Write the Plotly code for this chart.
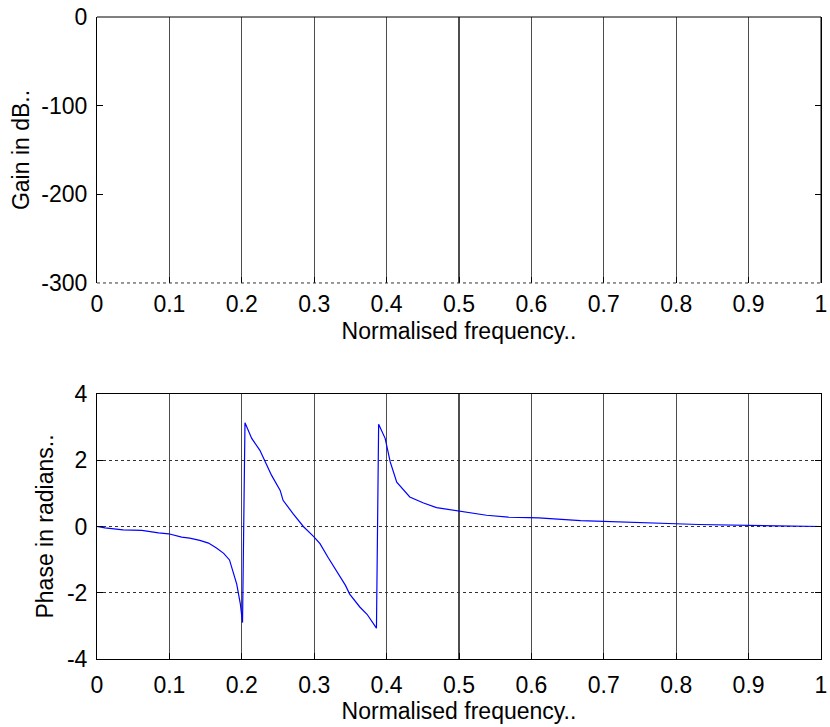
import plotly.graph_objects as go

# ---------------- data ----------------
# Gain plot: no visible trace inside the -300..0 dB window
gain_freq = []
gain_db = []

freq = [0.0, 0.011, 0.036, 0.062, 0.085, 0.099, 0.117, 0.128, 0.142, 0.154,
        0.165, 0.175, 0.183, 0.187, 0.193, 0.198, 0.201,
        0.2044, 0.2137, 0.225, 0.230, 0.241, 0.253, 0.257, 0.271, 0.285,
        0.299, 0.308, 0.319, 0.331, 0.343, 0.349, 0.363, 0.373, 0.386,
        0.389, 0.398, 0.405, 0.414, 0.432, 0.451, 0.469, 0.497, 0.515,
        0.538, 0.568, 0.610, 0.668, 0.739, 0.831, 0.939, 1.0]
phase = [0.0, -0.04, -0.10, -0.12, -0.19, -0.22, -0.32, -0.35, -0.42, -0.50,
         -0.65, -0.81, -1.01, -1.33, -1.74, -2.34, -2.90,
         3.13, 2.66, 2.30, 2.05, 1.55, 1.09, 0.79, 0.38, 0.0,
         -0.30, -0.52, -0.93, -1.33, -1.77, -2.04, -2.43, -2.65, -3.07,
         3.09, 2.66, 1.95, 1.34, 0.89, 0.71, 0.57, 0.48, 0.42,
         0.34, 0.28, 0.26, 0.18, 0.12, 0.06, 0.02, 0.0]

x_ticks = [0, 0.1, 0.2, 0.3, 0.4, 0.5, 0.6, 0.7, 0.8, 0.9, 1.0]
x_ticktext = ["0", "0.1", "0.2", "0.3", "0.4", "0.5", "0.6", "0.7", "0.8", "0.9", "1"]
gain_ticks = [0, -100, -200, -300]
gain_ticktext = ["0", "-100", "-200", "-300"]
phase_ticks = [-4, -2, 0, 2, 4]
phase_ticktext = ["-4", "-2", "0", "2", "4"]

x_title = "Normalised frequency.."
gain_title = "Gain in dB.."
phase_title = "Phase in radians.."

# ---------------- figure ----------------
FONT = "Liberation Sans, Arial, Helvetica, sans-serif"
FS = 23

fig = go.Figure()
fig.add_trace(go.Scatter(x=gain_freq, y=gain_db, mode="lines", xaxis="x", yaxis="y",
                         line=dict(color="#0000ff", width=1), showlegend=False))
fig.add_trace(go.Scatter(x=freq, y=phase, mode="lines", xaxis="x2", yaxis="y2",
                         line=dict(color="#0000ff", width=1.2), showlegend=False))

common_x = dict(range=[0, 1], tickvals=x_ticks, ticktext=x_ticktext,
                showgrid=True, gridcolor="#4d4d4d", gridwidth=1.2,
                ticks="inside", ticklen=6, tickcolor="black",
                zeroline=False, ticklabelstandoff=5, ticklabeloverflow="allow",
                tickfont=dict(family=FONT, size=FS, color="black"),
                title=dict(text=x_title, font=dict(family=FONT, size=FS, color="black"),
                           standoff=6))

fig.update_layout(
    width=830, height=727,
    margin=dict(l=97, r=9, t=17, b=68, autoexpand=False),
    paper_bgcolor="white", plot_bgcolor="white",
    font=dict(family=FONT, size=FS, color="black"),
    hovermode=False,
    xaxis=dict(domain=[0, 1], anchor="y", showline=False, **common_x),
    yaxis=dict(domain=[0.5857, 1.0], anchor="x", range=[-300, 0],
               tickvals=gain_ticks, ticktext=gain_ticktext,
               showgrid=False, zeroline=False,
               showline=True, linecolor="black", linewidth=1,
               ticks="inside", ticklen=6, tickcolor="black", mirror="ticks",
               ticklabelstandoff=4, ticklabeloverflow="allow",
               tickfont=dict(family=FONT, size=FS, color="black"),
               title=dict(text=gain_title, font=dict(family=FONT, size=FS, color="black"),
                          standoff=5)),
    xaxis2=dict(domain=[0, 1], anchor="y2", showline=True, linecolor="black",
                linewidth=1, mirror=True, **common_x),
    yaxis2=dict(domain=[0.0, 0.4128], anchor="x2", range=[-4, 4],
                tickvals=phase_ticks, ticktext=phase_ticktext,
                showgrid=True, gridcolor="#333333",
                griddash="dot", gridwidth=1, zeroline=False,
                showline=True, linecolor="black", linewidth=1, mirror="ticks",
                ticks="inside", ticklen=6, tickcolor="black",
                ticklabelstandoff=4, ticklabeloverflow="allow",
                tickfont=dict(family=FONT, size=FS, color="black"),
                title=dict(text=phase_title, font=dict(family=FONT, size=FS, color="black"),
                           standoff=6)),
    shapes=[
        # frame of the upper axes: top & right solid, bottom dotted
        dict(type="line", xref="x domain", yref="y domain", x0=0, x1=1, y0=1, y1=1,
             line=dict(color="black", width=1)),
        dict(type="line", xref="x domain", yref="y domain", x0=1, x1=1, y0=0, y1=1,
             line=dict(color="black", width=1)),
        dict(type="line", xref="x domain", yref="y domain", x0=0, x1=1, y0=0, y1=0,
             line=dict(color="#333333", width=1, dash="dot")),
    ],
)

# remove the default page margin so the 830x727 figure fills the window exactly
fig.write_html("out.html",
               config={"displayModeBar": False, "staticPlot": True},
               post_script="document.body.style.margin='0';document.body.style.overflow='hidden';")
